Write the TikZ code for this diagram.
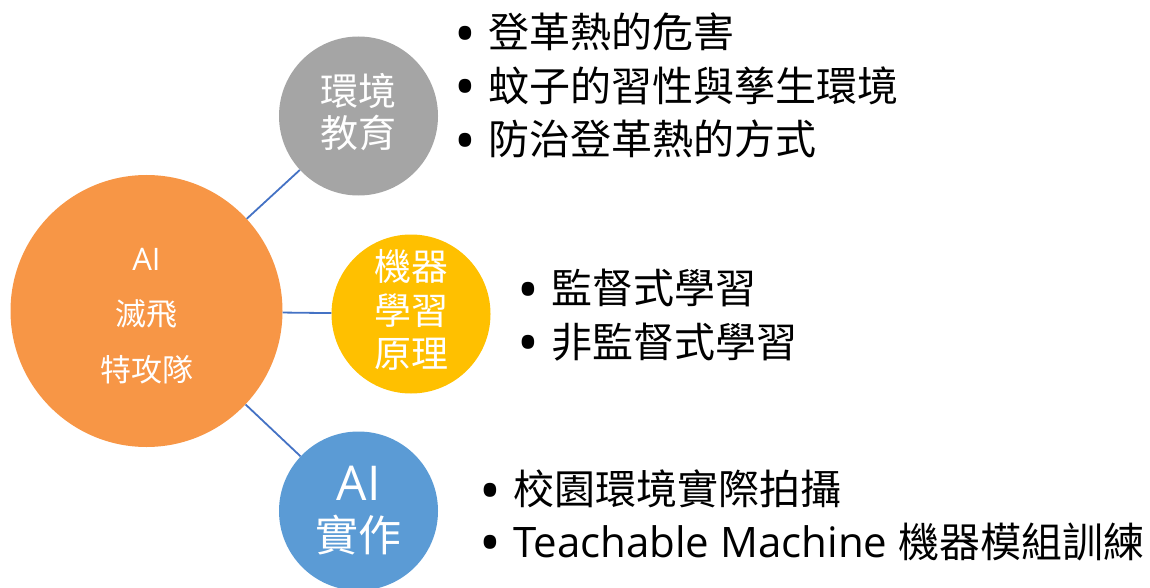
\documentclass[tikz,border=0pt]{standalone}
\usepackage{fontspec}
\setmainfont{Noto Sans CJK TC}
\newfontfamily\latin{Open Sans}
\definecolor{orgc}{HTML}{F79646}
\definecolor{gryc}{HTML}{A5A5A5}
\definecolor{ylwc}{HTML}{FFC000}
\definecolor{bluc}{HTML}{5B9BD5}
\definecolor{linc}{HTML}{4472C4}
\newcommand{\blt}{\makebox[0pt]{\smash{\raisebox{-6.5pt}{\fontsize{58}{58}\selectfont\latin •}}}\hspace{23pt}}
\begin{document}
\begin{tikzpicture}[x=1pt,y=-1pt,
  bubble/.style={circle, inner sep=0pt, text=white, align=center},
  conn/.style={draw=linc, line width=1.8pt},
  itemline/.style={anchor=base west, inner sep=0pt, text=black, font=\fontsize{41}{48}\selectfont}]
\useasboundingbox (0,0) rectangle (1150,588);
% circles
\node[bubble, fill=orgc, minimum size=272pt, font=\fontsize{31}{55.5}\selectfont] (core) at (146.5,311) {{\latin AI}\rule{0pt}{32pt}\\滅飛\\特攻隊};
\node[bubble, fill=gryc, minimum size=159pt, font=\fontsize{38}{42}\selectfont] (env) at (358.5,116) {環境\\教育\rule[-12pt]{0pt}{12pt}};
\node[bubble, fill=ylwc, minimum size=159pt, font=\fontsize{37}{43.5}\selectfont] (ml) at (411,314) {機器\\學習\\原理\rule[-11pt]{0pt}{11pt}};
\node[bubble, fill=bluc, minimum size=159pt, font=\fontsize{43}{51}\selectfont] (impl) at (358.5,511) {{\fontsize{48}{51}\selectfont\latin AI}\\實作};
% connectors
\draw[conn] (core) -- (env);
\draw[conn] (core) -- (ml);
\draw[conn] (core) -- (impl);
% lists
\node[itemline] (e1) at (465,48) {\blt 登革熱的危害};
\node[itemline] (e2) at (465,101.5) {\blt 蚊子的習性與孳生環境};
\node[itemline] (e3) at (465,155) {\blt 防治登革熱的方式};
\node[itemline] (m1) at (528.5,303.5) {\blt 監督式學習};
\node[itemline] (m2) at (528.5,357) {\blt 非監督式學習};
\node[itemline] (p1) at (490,504.5) {\blt 校園環境實際拍攝};
\node[itemline] (p2) at (490,557) {\blt {\fontsize{42}{48}\selectfont\latin Teachable Machine }機器模組訓練};
\end{tikzpicture}
\end{document}
